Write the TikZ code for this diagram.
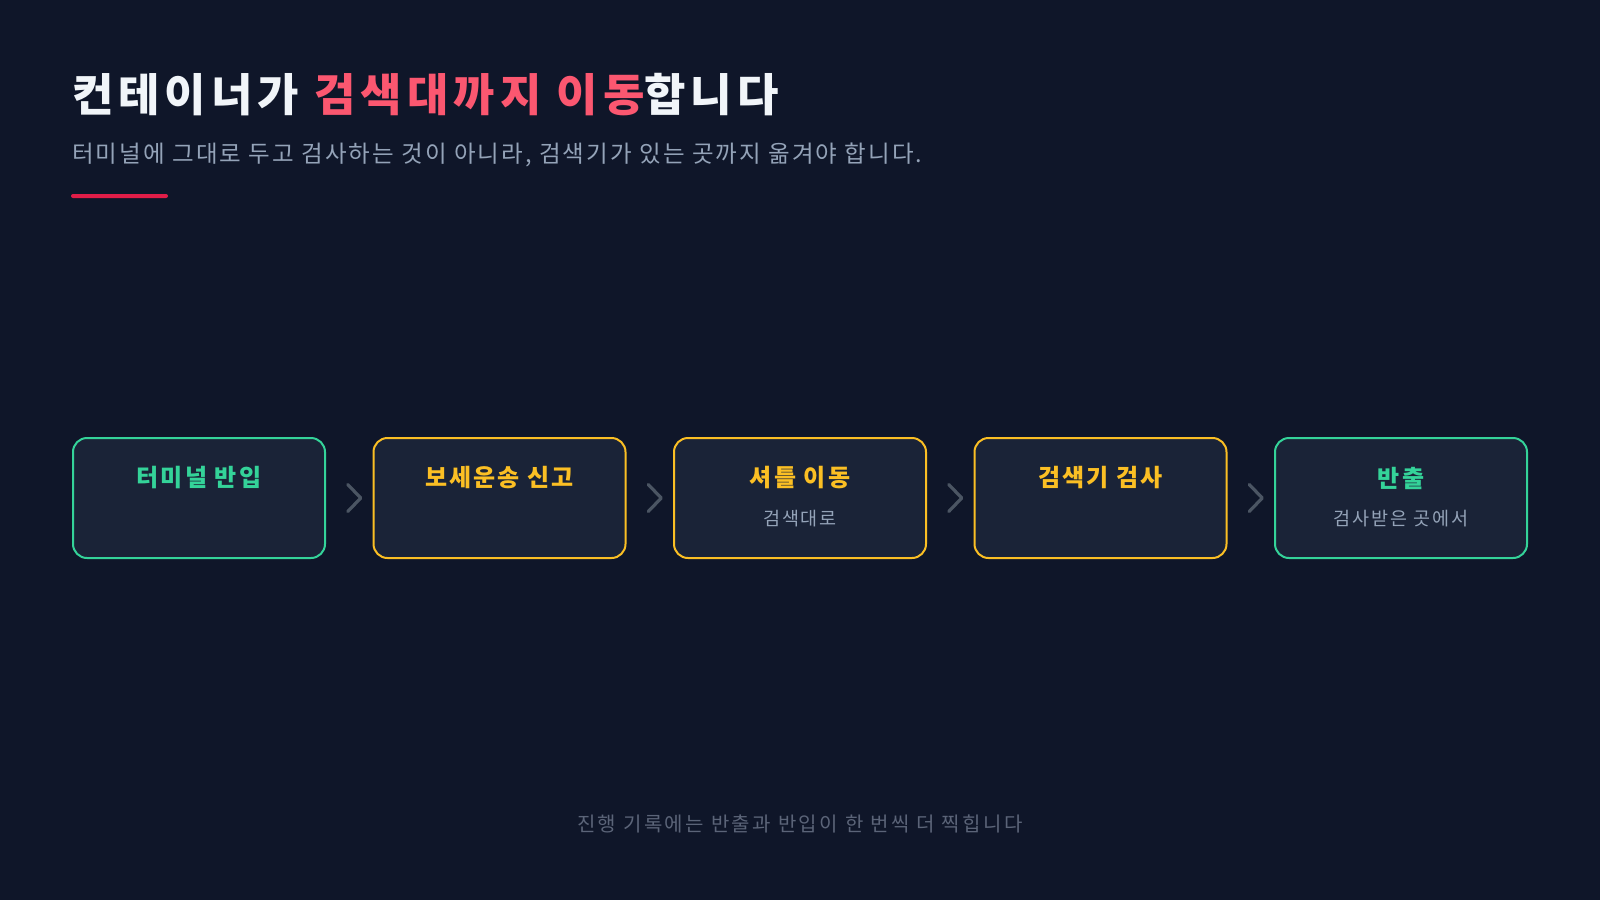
\documentclass[tikz,border=0pt]{standalone}
\usepackage{fontspec}
\setmainfont{Noto Sans CJK KR}
\usetikzlibrary{calc}
\definecolor{bg}{HTML}{0F1629}
\definecolor{boxfill}{HTML}{1A2337}
\definecolor{titlewhite}{HTML}{F1F5F9}
\definecolor{accent}{HTML}{FB5770}
\definecolor{barred}{HTML}{E11D48}
\definecolor{subgray}{HTML}{94A3B8}
\definecolor{green}{HTML}{34D399}
\definecolor{amber}{HTML}{FBBF24}
\definecolor{chev}{HTML}{4B5563}
\definecolor{foot}{HTML}{5B6478}
\tikzset{
  x=1pt, y=-1pt,
  stepbox/.style={draw=#1, line width=2pt, fill=boxfill, rounded corners=14pt,
    minimum width=252pt, minimum height=120pt, inner sep=0pt},
  boxtitle/.style={text=#1, font=\fontsize{24}{28}\selectfont\bfseries\addfontfeature{LetterSpace=9}, inner sep=0pt},
  boxsub/.style={text=subgray, font=\fontsize{18.5}{22}\selectfont\addfontfeature{LetterSpace=10}, inner sep=0pt},
  chevron/.style={draw=chev, line width=3.2pt, line cap=round, line join=round},
}
\begin{document}
\begin{tikzpicture}
\fill[bg] (0,0) rectangle (1600,900);
\useasboundingbox (0,0) rectangle (1600,900);
% title
\node[anchor=west, inner sep=0pt, font=\fontsize{45}{54}\selectfont\bfseries\addfontfeature{LetterSpace=11.1}, text=titlewhite] (title) at (72,95)
  {컨테이너가 \textcolor{accent}{검색대까지 이동}합니다};
\node[anchor=west, inner sep=0pt, font=\fontsize{23.5}{28}\selectfont\addfontfeature{LetterSpace=8.9}, text=subgray] (subtitle) at (72,155)
  {터미널에 그대로 두고 검사하는 것이 아니라, 검색기가 있는 곳까지 옮겨야 합니다.};
\fill[barred, rounded corners=2pt] (71,194) rectangle (168,198);
% boxes
\foreach \i/\c/\t/\s in {1/green/터미널 반입/,2/amber/보세운송 신고/,3/amber/셔틀 이동/검색대로,4/amber/검색기 검사/,5/green/반출/검사받은 곳에서}{
  \node[stepbox=\c] (b\i) at ({72+127+300.5*(\i-1)},498) {};
  \node[boxtitle=\c] (t\i) at ({72+127+300.5*(\i-1)},478) {\t};
  \node[boxsub] (s\i) at ({72+127+300.5*(\i-1)},519) {\s};
}
% chevrons
\foreach \a/\b in {1/2,2/3,3/4,4/5}{
  \coordinate (m\a) at ($(b\a.east)!0.5!(b\b.west)+(5,0)$);
  \draw[chevron] ($(m\a)+(-6.5,-13.5)$) -- ($(m\a)+(6.5,0)$) -- ($(m\a)+(-6.5,13.5)$);
}
% footer
\node[inner sep=0pt, font=\fontsize{20}{24}\selectfont\addfontfeature{LetterSpace=12.2}, text=foot] (footer) at (800,824) {진행 기록에는 반출과 반입이 한 번씩 더 찍힙니다};
\end{tikzpicture}
\end{document}
